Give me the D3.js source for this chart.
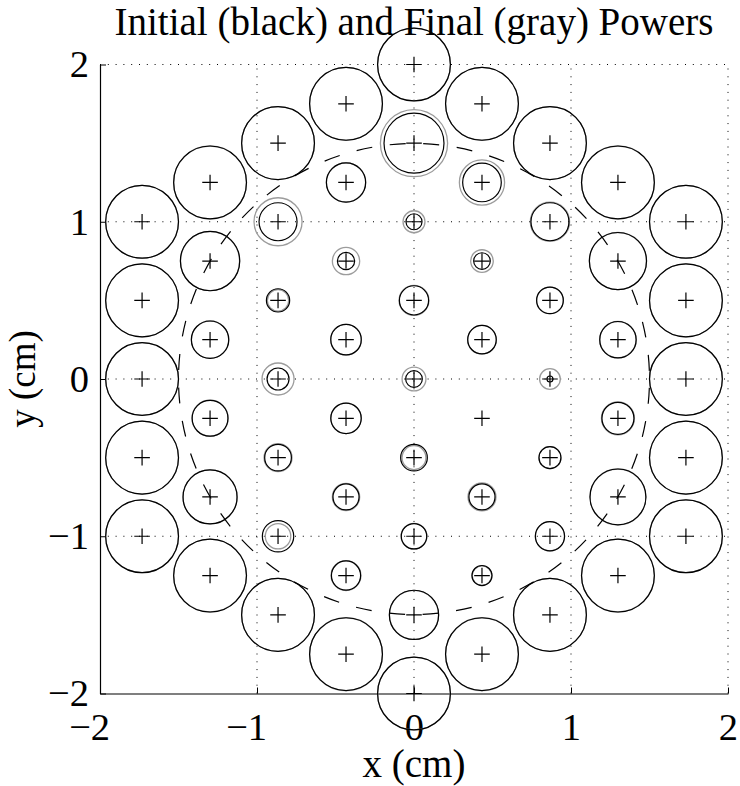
<!DOCTYPE html>
<html>
<head>
<meta charset="utf-8">
<script src="https://cdn.jsdelivr.net/npm/d3@7"></script>
<style>
  body { margin: 0; background: #fff; }
  svg text { font-family: "Liberation Serif", "Times New Roman", serif; fill: #000; }
</style>
</head>
<body>
<svg id="chart" width="740" height="786"></svg>
<script>
// element positions (cm), column by column
const elemX = [
  -1.732, -1.732, -1.732, -1.732, -1.732,
  -1.299, -1.299, -1.299, -1.299, -1.299, -1.299,
  -0.866, -0.866, -0.866, -0.866, -0.866, -0.866, -0.866,
  -0.433, -0.433, -0.433, -0.433, -0.433, -0.433, -0.433, -0.433,
  0, 0, 0, 0, 0, 0, 0, 0, 0,
  0.433, 0.433, 0.433, 0.433, 0.433, 0.433, 0.433, 0.433,
  0.866, 0.866, 0.866, 0.866, 0.866, 0.866, 0.866,
  1.299, 1.299, 1.299, 1.299, 1.299, 1.299,
  1.732, 1.732, 1.732, 1.732, 1.732
];
const elemY = [
  1, 0.5, 0, -0.5, -1,
  1.25, 0.75, 0.25, -0.25, -0.75, -1.25,
  1.5, 1, 0.5, 0, -0.5, -1, -1.5,
  1.75, 1.25, 0.75, 0.25, -0.25, -0.75, -1.25, -1.75,
  2, 1.5, 1, 0.5, 0, -0.5, -1, -1.5, -2,
  1.75, 1.25, 0.75, 0.25, -0.25, -0.75, -1.25, -1.75,
  1.5, 1, 0.5, 0, -0.5, -1, -1.5,
  1.25, 0.75, 0.25, -0.25, -0.75, -1.25,
  1, 0.5, 0, -0.5, -1
];
// circle radius (cm) showing initial power (black)
const initialR = [
  0.232, 0.232, 0.232, 0.232, 0.232,
  0.232, 0.189, 0.119, 0.114, 0.172, 0.232,
  0.232, 0.121, 0.074, 0.070, 0.085, 0.100, 0.232,
  0.232, 0.125, 0.055, 0.097, 0.097, 0.083, 0.093, 0.232,
  0.232, 0.191, 0.051, 0.093, 0.053, 0.085, 0.081, 0.157, 0.232,
  0.232, 0.123, 0.053, 0.091, 0, 0.083, 0.064, 0.232,
  0.232, 0.121, 0.085, 0.019, 0.070, 0.093, 0.232,
  0.232, 0.182, 0.116, 0.102, 0.178, 0.232,
  0.232, 0.232, 0.232, 0.232, 0.232
];
// circle radius (cm) showing final power (gray)
const finalR = [
  0.232, 0.232, 0.232, 0.232, 0.232,
  0.232, 0.188, 0.119, 0.115, 0.172, 0.232,
  0.232, 0.153, 0.068, 0.102, 0.089, 0.081, 0.232,
  0.232, 0.125, 0.087, 0.098, 0.097, 0.087, 0.095, 0.232,
  0.232, 0.214, 0.070, 0.095, 0.076, 0.076, 0.082, 0.156, 0.232,
  0.232, 0.144, 0.072, 0.091, 0, 0.089, 0.062, 0.232,
  0.232, 0.125, 0.085, 0.066, 0.070, 0.093, 0.232,
  0.232, 0.182, 0.116, 0.105, 0.178, 0.232,
  0.232, 0.232, 0.232, 0.232, 0.232
];
const refRadius = 1.5;
const xTicks = [-2, -1, 0, 1, 2];
const yTicks = [-2, -1, 0, 1, 2];

const svg = d3.select('#chart');

const x = d3.scaleLinear().domain([-2, 2]).range([100, 728]);
const y = d3.scaleLinear().domain([-2, 2]).range([693.5, 64.5]);
const r = d => x(d) - x(0);
const fmt = d => (d < 0 ? '\u2212' : '') + Math.abs(d);
const serif = '"Liberation Serif", "Times New Roman", serif';

const elems = elemX.map((ex, i) => ({ x: ex, y: elemY[i], r0: initialR[i], r1: finalR[i] }));

// dotted grid
const grid = svg.append('g').attr('class', 'grid')
  .attr('stroke', '#000').attr('stroke-width', 1).attr('stroke-dasharray', '1,6.8');
grid.selectAll('line.gx').data(xTicks.slice(1)).enter().append('line')
  .attr('x1', d => x(d)).attr('x2', d => x(d))
  .attr('y1', y(-2)).attr('y2', y(2));
grid.selectAll('line.gy').data(yTicks.slice(1)).enter().append('line')
  .attr('x1', x(-2)).attr('x2', x(2))
  .attr('y1', d => y(d)).attr('y2', d => y(d));

// axes
const xAxis = d3.axisBottom(x).tickValues(xTicks).tickFormat(fmt)
  .tickSizeInner(-6).tickSizeOuter(0).tickPadding(19);
const yAxis = d3.axisLeft(y).tickValues(yTicks).tickFormat(fmt)
  .tickSizeInner(-6).tickSizeOuter(0).tickPadding(11);

const gx = svg.append('g')
  .attr('transform', `translate(0, ${y(-2)})`)
  .call(xAxis);
const gy = svg.append('g')
  .attr('transform', `translate(${x(-2)}, 0)`)
  .call(yAxis);

[gx, gy].forEach(g => {
  g.attr('font-family', null).attr('font-size', null);
  g.select('.domain').attr('stroke', '#000').attr('stroke-width', 1.2);
  g.selectAll('.tick line').attr('stroke', '#000').attr('stroke-width', 1);
  g.selectAll('.tick text').style('font-family', serif).style('font-size', '38.5px');
});
// keep the digit centred on the tick, minus sign hangs to the left
gx.selectAll('.tick text').attr('text-anchor', 'end').attr('x', 9.6);

// circles: final (gray) under initial (black)
svg.append('g').selectAll('circle').data(elems.filter(d => d.r1 > 0)).enter().append('circle')
  .attr('cx', d => x(d.x)).attr('cy', d => y(d.y)).attr('r', d => r(d.r1))
  .attr('fill', 'none').attr('stroke', '#9c9c9c').attr('stroke-width', 1.3);
svg.append('g').selectAll('circle').data(elems.filter(d => d.r0 > 0)).enter().append('circle')
  .attr('cx', d => x(d.x)).attr('cy', d => y(d.y)).attr('r', d => r(d.r0))
  .attr('fill', 'none').attr('stroke', '#000').attr('stroke-width', 1.2);

// plus markers
const m = 7.8;
const plus = svg.append('g').attr('stroke', '#000').attr('stroke-width', 1.2);
plus.selectAll('path').data(elems).enter().append('path')
  .attr('d', d => {
    const cx = x(d.x), cy = y(d.y);
    return `M${cx - m},${cy}H${cx + m}M${cx},${cy - m}V${cy + m}`;
  });

// dashed reference circle, gaps centred at top and bottom
const refR = r(refRadius);
const circ = 2 * Math.PI * refR;
const period = circ / 44;
const dash = 16;
const offset = ((dash + (period - dash) / 2 - circ / 4) % period + period) % period;
svg.append('circle')
  .attr('cx', x(0)).attr('cy', y(0)).attr('r', refR)
  .attr('fill', 'none').attr('stroke', '#000').attr('stroke-width', 1.2)
  .attr('stroke-dasharray', `${dash},${period - dash}`)
  .attr('stroke-dashoffset', offset);

// title and labels
svg.append('text')
  .attr('x', x(0)).attr('y', 35)
  .attr('text-anchor', 'middle')
  .style('font-size', '39px')
  .text('Initial (black) and Final (gray) Powers');

svg.append('text')
  .attr('x', x(0)).attr('y', 777)
  .attr('text-anchor', 'middle')
  .style('font-size', '39px')
  .text('x (cm)');

svg.append('text')
  .attr('transform', `translate(35, ${y(0)}) rotate(-90)`)
  .attr('text-anchor', 'middle')
  .style('font-size', '37px')
  .text('y (cm)');
</script>
</body>
</html>
